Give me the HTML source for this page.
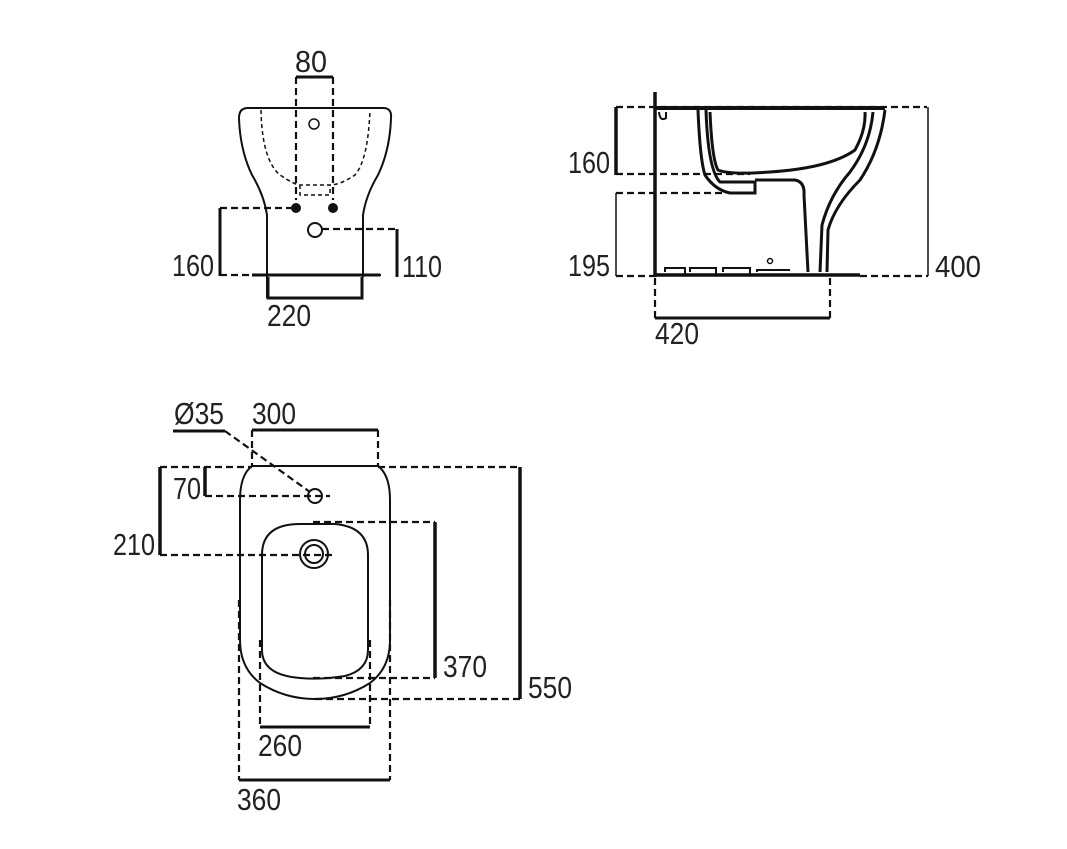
<!DOCTYPE html>
<html><head><style>html,body{margin:0;padding:0;background:#fff}</style></head><body>
<svg width="1067" height="844" viewBox="0 0 1067 844" xmlns="http://www.w3.org/2000/svg" font-family="Liberation Sans, sans-serif" font-size="31" fill="#222">
<g fill="none" stroke="#111" stroke-width="2">
<!-- FRONT VIEW -->
<path d="M248 108 H383 Q392 108 391 118 Q390 150 378 175 Q366 195 363 215 V277" />
<path d="M248 108 Q239 108 239 118 Q240 150 252 175 Q264 195 267 215 V298" />
<path d="M261 110 Q262 160 280 175 Q295 185 300 185 H330 Q340 185 355 175 Q368 160 370 110" stroke-dasharray="4,3" stroke-width="1.5"/>
<path d="M300 185 V195 H330 V185" stroke-dasharray="4,3" stroke-width="1.5"/>
<circle cx="314" cy="124" r="5" stroke-width="1.5"/>
<circle cx="315" cy="230" r="7"/>
<circle cx="296" cy="208" r="4" fill="#111"/>
<circle cx="333" cy="208" r="4" fill="#111"/>
<path d="M296 77 H333" stroke-width="3"/>
<path d="M296 77 V200 M333 77 V200" stroke-dasharray="7,4" stroke-width="2.2"/>
<path d="M220 208 H296 M220 275 H385 M322 229 H397" stroke-dasharray="7,4" stroke-width="2.2"/>
<path d="M220 208 V276 M397 229 V277" stroke-width="3"/>
<path d="M252 275 H380" stroke-width="3"/>
<path d="M268 277 V298 H362 V277" stroke-width="3"/>
<!-- SIDE VIEW -->
<path d="M655 92 V277" stroke-width="3.5"/>
<path d="M616 107 V175" stroke-width="3.5"/>
<path d="M616 193 V276" stroke-width="1.5"/>
<path d="M616 107 H927 M616 174 H750 M616 193 H725 M616 276 H655 M860 276 H928" stroke-dasharray="7,4" stroke-width="2.2"/>
<path d="M928 107 V276" stroke-width="1.5"/>
<path d="M655 108 H885" stroke-width="4"/>
<path d="M655 275 H860" stroke-width="3.5"/>
<path d="M655 278 V318 M830 278 V318" stroke-dasharray="7,4" stroke-width="2.2"/>
<path d="M655 318 H830" stroke-width="3"/>
<path d="M698 110 Q700 160 705 175 Q715 190 730 193 H755 V182 H720 Q708 170 706 110" stroke-width="3"/>
<path d="M710 112 Q712 160 718 170 Q730 175 770 172 Q830 168 855 150 Q866 130 865 112" stroke-width="3"/>
<path d="M755 180 H795 Q805 182 804 195 L808 272" stroke-width="3"/>
<path d="M885 110 Q880 150 860 180 Q835 205 828 230 L827 272" stroke-width="3"/>
<path d="M873 112 Q870 145 850 172 Q830 195 822 225 L820 272" stroke-width="3"/>
<path d="M665 272 V268 H685 V274 M690 272 V268 H716 V274 M723 272 V268 H750 V274 M757 272 V270 H790" stroke-width="2"/>
<circle cx="770" cy="261" r="2.5" stroke-width="1.5"/>
<path d="M659 112 Q660 122 666 118 V112" stroke-width="2"/>
<!-- PLAN VIEW -->
<path d="M252 466 H378 Q390 475 390 500 V640 Q390 668 370 683 Q345 699 315 699 Q285 699 260 683 Q240 668 240 640 V500 Q240 475 252 466 Z"/>
<path d="M300 524 H335 Q368 527 368 555 V650 Q368 670 345 676 Q320 680 300 678 Q262 675 262 650 V555 Q262 524 300 524 Z"/>
<path d="M252 430 H378" stroke-width="3"/>
<path d="M252 430 V466 M378 430 V466" stroke-dasharray="7,4" stroke-width="2.2"/>
<path d="M173 431 H225" stroke-width="3"/>
<path d="M225 431 L310 492" stroke-dasharray="7,4" stroke-width="2.2"/>
<circle cx="315" cy="496" r="7"/>
<circle cx="314" cy="554" r="14"/>
<circle cx="314" cy="554" r="9"/>
<path d="M205 467 V496 M160 467 V555 M520 467 V699 M435 522 V678" stroke-width="3.5"/>
<path d="M160 467 H252 M378 467 H520 M205 496 H330 M160 555 H333 M313 522 H435 M313 678 H435 M315 699 H520" stroke-dasharray="7,4" stroke-width="2.2"/>
<path d="M260 640 V727 M370 640 V727 M239 600 V780 M390 600 V780" stroke-dasharray="7,4" stroke-width="2.2"/>
<path d="M260 727 H370 M239 780 H390" stroke-width="3"/>
</g>
<g stroke="none">
<text x="295" y="72" textLength="32" lengthAdjust="spacingAndGlyphs">80</text>
<text x="172" y="276" textLength="42" lengthAdjust="spacingAndGlyphs">160</text>
<text x="402" y="277" textLength="40" lengthAdjust="spacingAndGlyphs">110</text>
<text x="267" y="326" textLength="44" lengthAdjust="spacingAndGlyphs">220</text>
<text x="568" y="173" textLength="42" lengthAdjust="spacingAndGlyphs">160</text>
<text x="568" y="276" textLength="42" lengthAdjust="spacingAndGlyphs">195</text>
<text x="935" y="277" textLength="46" lengthAdjust="spacingAndGlyphs">400</text>
<text x="655" y="344" textLength="44" lengthAdjust="spacingAndGlyphs">420</text>
<text x="174" y="424" textLength="50" lengthAdjust="spacingAndGlyphs">Ø35</text>
<text x="252" y="424" textLength="44" lengthAdjust="spacingAndGlyphs">300</text>
<text x="173" y="499" textLength="28" lengthAdjust="spacingAndGlyphs">70</text>
<text x="113" y="555" textLength="42" lengthAdjust="spacingAndGlyphs">210</text>
<text x="443" y="677" textLength="44" lengthAdjust="spacingAndGlyphs">370</text>
<text x="528" y="698" textLength="44" lengthAdjust="spacingAndGlyphs">550</text>
<text x="258" y="756" textLength="44" lengthAdjust="spacingAndGlyphs">260</text>
<text x="237" y="810" textLength="44" lengthAdjust="spacingAndGlyphs">360</text>
</g>
</svg>
</body></html>
